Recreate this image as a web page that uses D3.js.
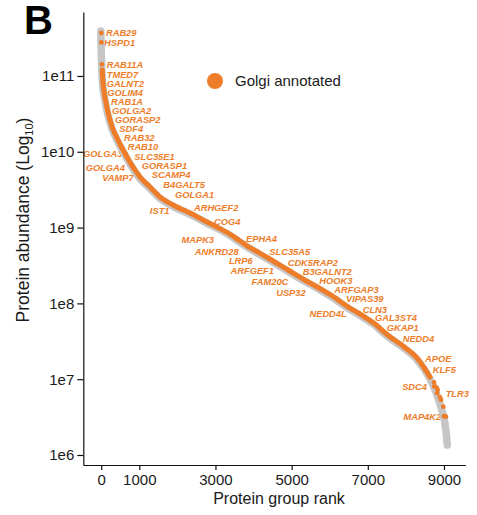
<!DOCTYPE html>
<html>
<head>
<meta charset="utf-8">
<script src="https://cdn.jsdelivr.net/npm/d3@7"></script>
<style>
  html, body { margin: 0; padding: 0; background: #fff; }
  svg { display: block; }
  text { font-family: "Liberation Sans", Arial, Helvetica, sans-serif; }
</style>
</head>
<body>
<svg id="chart" width="477" height="515"></svg>
<script>
// ---------- data ----------
// overall abundance distribution (rank -> log10 abundance)
const curveRank = [1, 5, 10, 20, 28, 42, 68, 113, 165, 231, 296, 402, 533, 677, 835, 1018, 1281, 1544, 1885, 2331,
  2778, 3329, 3801, 4405, 4904, 5298, 5718, 6112, 6427, 6874, 7189, 7503, 7923, 8291, 8632, 8789, 8921, 9026, 9078, 9097];
const curveLog = [11.607, 11.475, 11.343, 11.211, 11.079, 10.947, 10.815, 10.683, 10.551, 10.420, 10.314, 10.195, 10.063, 9.931, 9.799, 9.668, 9.536, 9.404, 9.298, 9.193,
  9.074, 8.929, 8.770, 8.592, 8.441, 8.322, 8.203, 8.084, 7.972, 7.834, 7.728, 7.590, 7.438, 7.280, 7.029, 6.858, 6.660, 6.462, 6.264, 6.145];

// Golgi annotated band range (ranks)
const golgiBandStart = 28;
const golgiBandEnd = 8632;

// individual Golgi proteins in the low-abundance tail
const golgiTailRank = [8633, 8738, 8808, 8835, 8895, 8922, 8982, 9052];
const golgiTailLog = [7.025, 6.959, 6.888, 6.858, 6.761, 6.726, 6.637, 6.505];

// labelled Golgi proteins
const geneNames = ["RAB29", "HSPD1", "RAB11A", "TMED7", "GALNT2", "GOLIM4", "RAB1A", "GOLGA2", "GORASP2", "SDF4",
  "RAB32", "RAB10", "SLC35E1", "GORASP1", "SCAMP4", "B4GALT5", "GOLGA1", "ARHGEF2", "COG4", "EPHA4",
  "SLC35A5", "CDK5RAP2", "B3GALNT2", "HOOK3", "ARFGAP3", "VIPAS39", "CLN3", "GAL3ST4", "GKAP1", "NEDD4",
  "APOE", "KLF5", "TLR3",
  "GOLGA3", "GOLGA4", "VAMP7", "IST1", "MAPK3", "ANKRD28", "LRP6", "ARFGEF1", "FAM20C", "USP32", "NEDD4L", "SDC4", "MAP4K2"];
const geneRank = [2, 4, 18, 29, 47, 79, 121, 171, 226, 299,
  407, 533, 672, 814, 982, 1229, 1483, 2034, 2778, 3547,
  4114, 4587, 4962, 5377, 5805, 6159, 6590, 6926, 7299, 7669,
  8300, 8499, 8819,
  635, 848, 1037, 2203, 3585, 4101, 4484, 4935, 5438, 5907, 6758, 8745, 9000];
const geneLog = [11.567, 11.442, 11.152, 11.022, 10.904, 10.785, 10.666, 10.542, 10.429, 10.310,
  10.191, 10.063, 9.935, 9.817, 9.694, 9.562, 9.434, 9.263, 9.074, 8.856,
  8.678, 8.537, 8.424, 8.300, 8.177, 8.067, 7.922, 7.817, 7.680, 7.530,
  7.273, 7.128, 6.814,
  9.971, 9.790, 9.658, 9.223, 8.843, 8.682, 8.568, 8.431, 8.282, 8.146, 7.869, 6.905, 6.511];

// axis ticks
const xTicks = [0, 1000, 3000, 5000, 7000, 9000];
const yTicks = [1e6, 1e7, 1e8, 1e9, 1e10, 1e11];
const yTickLabels = ["1e6", "1e7", "1e8", "1e9", "1e10", "1e11"];

// ---------- layout (label offsets in px, kept apart from data) ----------
const labelDx = [4.7, 2.7, 4.8, 4.4, 3.7, 3.1, 5.2, 4.3, 5.2, 6.7,
  7.3, 6.2, 7.5, 9.5, 13.1, 15.3, 17.3, 15.3, 7, 9.7,
  11.4, 11.8, 12.5, 13.3, 12, 10.2, 10.5, 10, 7.5, 9.4,
  7.7, 7.8, 8.6,
  -3, -8.5, -7, -15.6, -23.7, -18.7, -19.3, -15.2, -20, -20.5, -11.9, -7.3, -2.8];

const ORANGE = "#EE7D2A";
const GREY = "#C6C6C6";

// ---------- scales ----------
const svg = d3.select("#chart");
const x = d3.scaleLinear().domain([-470, 9560]).range([83.3, 465.3]);
const y = d3.scaleLog().domain([Math.pow(10, 5.868), Math.pow(10, 11.844)]).range([465, 12]);

const curve = curveRank.map((r, i) => ({ r, v: Math.pow(10, curveLog[i]) }));
const line = d3.line().x(d => x(d.r)).y(d => y(d.v)).curve(d3.curveMonotoneX);

// ---------- gene labels (drawn under the band) ----------
const genes = geneNames.map((n, i) => ({ n, r: geneRank[i], v: Math.pow(10, geneLog[i]), dx: labelDx[i] }));
svg.append("g").selectAll("text").data(genes).join("text")
  .attr("x", d => x(d.r) + d.dx)
  .attr("y", d => y(d.v))
  .attr("dy", "0.36em")
  .attr("text-anchor", d => d.dx < 0 ? "end" : "start")
  .attr("font-size", 9.3)
  .attr("font-weight", "bold")
  .attr("font-style", "italic")
  .attr("fill", ORANGE)
  .text(d => d.n);

// ---------- all proteins (grey band) ----------
svg.append("path")
  .datum(curve)
  .attr("d", line)
  .attr("transform", "translate(-0.4,1.1)")
  .attr("fill", "none")
  .attr("stroke", GREY)
  .attr("stroke-width", 7.5)
  .attr("stroke-linecap", "round")
  .attr("stroke-linejoin", "round");

// ---------- Golgi annotated band ----------
svg.append("path")
  .datum(curve.filter(d => d.r >= golgiBandStart && d.r <= golgiBandEnd))
  .attr("d", line)
  .attr("fill", "none")
  .attr("stroke", ORANGE)
  .attr("stroke-width", 5)
  .attr("stroke-linecap", "round")
  .attr("stroke-linejoin", "round");

const tail = golgiTailRank.map((r, i) => ({ r, v: Math.pow(10, golgiTailLog[i]) }));
svg.append("g").selectAll("circle").data(tail.concat(genes)).join("circle")
  .attr("cx", d => x(d.r))
  .attr("cy", d => y(d.v))
  .attr("r", 2.4)
  .attr("fill", ORANGE);

// ---------- axes ----------
const gx = svg.append("g")
  .attr("transform", "translate(0,465)")
  .call(d3.axisBottom(x).tickValues(xTicks).tickFormat(d3.format("d")).tickSize(5).tickSizeOuter(0).tickPadding(4));
const gy = svg.append("g")
  .attr("transform", "translate(83.3,0)")
  .call(d3.axisLeft(y).tickValues(yTicks).tickFormat((d, i) => yTickLabels[i]).tickSize(6).tickSizeOuter(0).tickPadding(3));
[gx, gy].forEach(g => {
  g.selectAll("text").attr("font-size", 15).attr("fill", "#1a1a1a")
    .attr("font-family", "'Liberation Sans', Arial, Helvetica, sans-serif");
  g.selectAll("path, line").attr("stroke", "#111").attr("stroke-width", 1.2);
});

// axis titles
svg.append("text")
  .attr("x", 279).attr("y", 503.5)
  .attr("text-anchor", "middle")
  .attr("font-size", 16).attr("fill", "#1a1a1a")
  .text("Protein group rank");

const yt = svg.append("text")
  .attr("transform", "translate(29,220) rotate(-90)")
  .attr("text-anchor", "middle")
  .attr("font-size", 17.5).attr("fill", "#1a1a1a");
yt.append("tspan").text("Protein abundance (Log");
yt.append("tspan").attr("font-size", 11).attr("dy", 4).text("10");
yt.append("tspan").attr("dy", -4).text(")");

// legend
svg.append("circle").attr("cx", 215).attr("cy", 81).attr("r", 8).attr("fill", ORANGE);
svg.append("text")
  .attr("x", 235).attr("y", 81).attr("dy", "0.35em")
  .attr("font-size", 15).attr("fill", "#1a1a1a")
  .text("Golgi annotated");

// panel letter
svg.append("text")
  .attr("x", 24).attr("y", 34)
  .attr("font-size", 40).attr("font-weight", "bold").attr("fill", "#000")
  .text("B");
</script>
</body>
</html>
